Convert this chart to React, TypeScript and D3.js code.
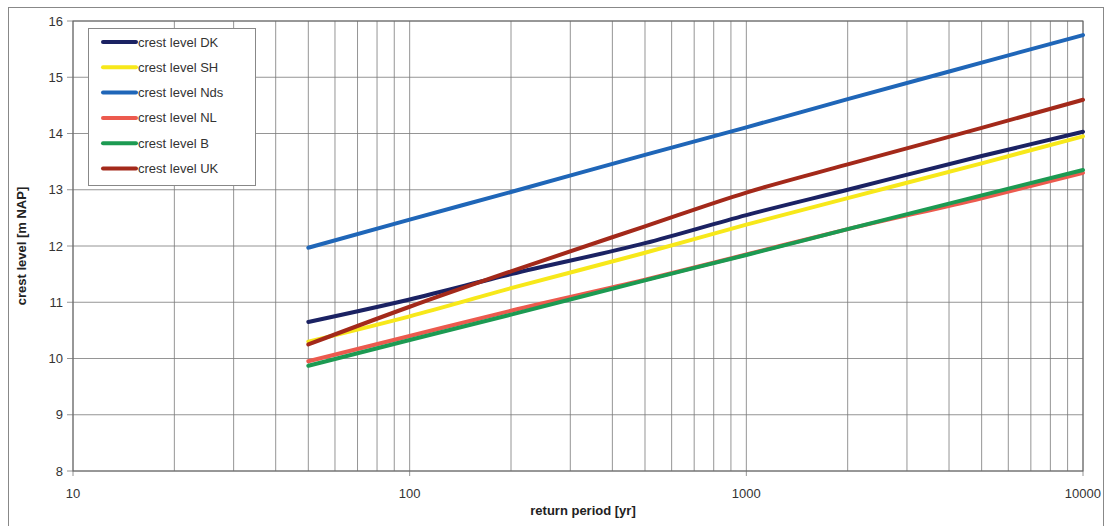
import React from 'react'
import * as d3 from 'd3'

const width = 1107;
const height = 526;
const margin = { top: 21, right: 24, bottom: 55, left: 73 };

// return periods [yr] where the curves are given
const periods = [50, 100, 200, 500, 1000, 2000, 5000, 10000];

// crest levels [m NAP] per country
const dk = [10.65, 11.05, 11.5, 12.05, 12.55, 13.0, 13.6, 14.03];
const sh = [10.3, 10.75, 11.25, 11.88, 12.38, 12.85, 13.47, 13.95];
const nds = [11.97, 12.47, 12.96, 13.62, 14.11, 14.61, 15.26, 15.75];
const nl = [9.95, 10.4, 10.85, 11.4, 11.85, 12.3, 12.85, 13.3];
const b = [9.87, 10.33, 10.78, 11.39, 11.84, 12.3, 12.9, 13.35];
const uk = [10.25, 10.92, 11.55, 12.35, 12.95, 13.45, 14.1, 14.6];

const seriesNames = ['crest level DK', 'crest level SH', 'crest level Nds', 'crest level NL', 'crest level B', 'crest level UK'];
const seriesValues = [dk, sh, nds, nl, b, uk];
const seriesColors = ['#1b2263', '#f7e81a', '#1f66b8', '#ec5a4e', '#1c9a52', '#a3291a'];

const xTicks = [10, 100, 1000, 10000];
const yTicks = [8, 9, 10, 11, 12, 13, 14, 15, 16];

const font = '"Liberation Sans", Arial, sans-serif';

export default function App() {
  const xScale = d3.scaleLog().domain([10, 10000]).range([margin.left, width - margin.right]);
  const yScale = d3.scaleLinear().domain([8, 16]).range([height - margin.bottom, margin.top]);

  // minor ticks 2..9 per decade
  const minor: number[] = [];
  for (let dec = 10; dec < 10000; dec *= 10) {
    for (let k = 2; k <= 9; k++) minor.push(dec * k);
  }

  const line = d3.line<number>()
    .x((_, i) => xScale(periods[i]))
    .y(d => yScale(d))
    .curve(d3.curveMonotoneX);

  const x0 = margin.left, x1 = width - margin.right;
  const y0 = height - margin.bottom, y1 = margin.top;

  // legend
  const lg = { x: 88, y: 28, w: 167, h: 157, row: 25.3 };

  return (
    <svg width={width} height={height} style={{ position: 'absolute', left: 0, top: 0, background: '#fff' }}
      fontFamily={font}>
      <rect x={8.5} y={7.5} width={1095} height={530} fill="#fff" stroke="#888" strokeWidth={1} />

      {/* grid */}
      <g stroke="#7a7a7a" strokeWidth={0.8}>
        {minor.map(v => (
          <line key={'m' + v} x1={xScale(v)} x2={xScale(v)} y1={y1} y2={y0} />
        ))}
        {xTicks.map(v => (
          <line key={'x' + v} x1={xScale(v)} x2={xScale(v)} y1={y1} y2={y0 + 5} />
        ))}
        {yTicks.map(v => (
          <line key={'y' + v} x1={x0 - 6} x2={x1} y1={yScale(v)} y2={yScale(v)} />
        ))}
      </g>
      <rect x={x0} y={y1} width={x1 - x0} height={y0 - y1} fill="none" stroke="#666" strokeWidth={1} />

      {/* axis labels */}
      <g fontSize={13} fill="#333">
        {yTicks.map(v => (
          <text key={'yl' + v} x={x0 - 10} y={yScale(v)} dy="0.35em" textAnchor="end">{v}</text>
        ))}
        {xTicks.map(v => (
          <text key={'xl' + v} x={v === 10000 ? xScale(v) + 18 : xScale(v)} y={y0 + 27}
            textAnchor={v === 10000 ? 'end' : 'middle'}>{v}</text>
        ))}
      </g>
      <text x={(x0 + x1) / 2 + 5} y={height - 11} textAnchor="middle" fontSize={13} fontWeight="bold" fill="#222">
        return period [yr]
      </text>
      <text transform={`translate(26, ${(y0 + y1) / 2}) rotate(-90)`} textAnchor="middle" fontSize={13}
        fontWeight="bold" fill="#222">
        crest level [m NAP]
      </text>

      {/* series */}
      {seriesValues.map((vals, i) => (
        <path key={seriesNames[i]} d={line(vals) || ''} fill="none" stroke={seriesColors[i]}
          strokeWidth={4} strokeLinecap="round" />
      ))}

      {/* legend */}
      <rect x={lg.x + 0.5} y={lg.y + 0.5} width={lg.w} height={lg.h} fill="#fff" stroke="#888" />
      {seriesNames.map((name, i) => {
        const yy = lg.y + 14 + i * lg.row;
        return (
          <g key={'lg' + name}>
            <line x1={103} x2={136} y1={yy} y2={yy} stroke={seriesColors[i]} strokeWidth={4} strokeLinecap="round" />
            <text x={138} y={yy} dy="0.35em" fontSize={13} fill="#333">{name}</text>
          </g>
        );
      })}
    </svg>
  );
}
